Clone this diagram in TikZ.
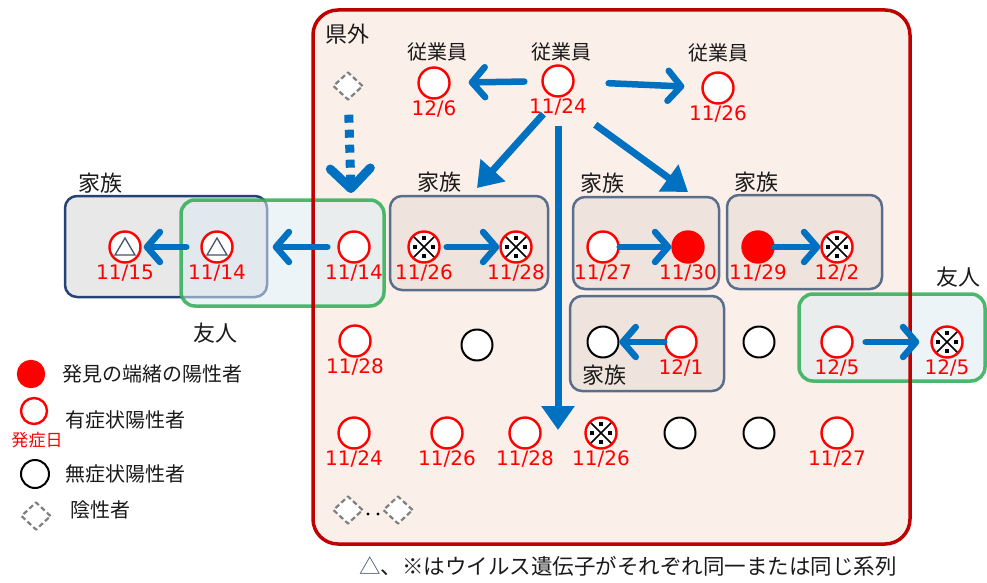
\documentclass[tikz,border=0pt]{standalone}
\usepackage{fontspec}
\setmainfont{DejaVu Sans}
\newfontfamily\jp{Noto Sans CJK JP}
\usetikzlibrary{arrows.meta,shapes.geometric}
\definecolor{outred}{HTML}{C00000}
\definecolor{outfill}{HTML}{FBF0E9}
\definecolor{famfill}{HTML}{EEE4DD}
\definecolor{famdraw}{HTML}{5A6E8C}
\definecolor{navy}{HTML}{254277}
\definecolor{leftgray}{HTML}{E8E8E9}
\definecolor{frgreen}{HTML}{2EAD55}
\definecolor{frfill}{HTML}{DCEBF3}
\definecolor{arrblue}{HTML}{0070C0}
\definecolor{negray}{HTML}{7F7F7F}
\definecolor{textgray}{HTML}{1A1A1A}
\definecolor{slate}{HTML}{44546A}
\begin{document}
\begin{tikzpicture}[x=1pt,y=-1pt,line join=round,line cap=round,label distance=1pt,
  posi/.style={circle,draw=red,fill=white,line width=2.4pt,minimum size=31pt,inner sep=0pt},
  seed/.style={posi,fill=red},
  asym/.style={posi,draw=black,line width=2pt},
  neg/.style={diamond,draw=negray,fill=white,dash pattern=on 5pt off 3pt,line cap=butt,line width=2.2pt,minimum width=30pt,minimum height=28pt,inner sep=0pt},
  kome/.style={posi,path picture={
    \draw[black,line width=1.5pt] ([shift={(-12,-12)}]path picture bounding box.center) -- ++(24,24)
      ([shift={(12,-12)}]path picture bounding box.center) -- ++(-24,24);
    \foreach \dx/\dy in {0/-9,0/9,-9/0,9/0}
      \fill[black] ([shift={(\dx-2,\dy-2)}]path picture bounding box.center) rectangle ++(4,4);}},
  tri/.style={posi,path picture={
    \draw[slate,line width=1.3pt,line join=miter] ([shift={(0,-9)}]path picture bounding box.center) -- ++(10,17) -- ++(-20,0) -- cycle;}},
  date/.style={text=red,inner sep=0pt,font=\fontsize{20}{24}\selectfont},
  jp/.style={inner sep=0pt,text=textgray,font=\jp\fontsize{20}{24}\selectfont},
  grouplbl/.style={jp,font=\jp\fontsize{22}{26}\selectfont},
  arr/.style={draw=arrblue,line width=6.5pt,-{Straight Barb[length=13pt,width=30pt,round]}},
  longarr/.style={draw=arrblue,line width=7pt,line cap=butt,-{Triangle[length=24pt,width=32pt]}},
  famil/.style={draw=famdraw,fill=famfill,line width=2.5pt,rounded corners=12pt},
  friend/.style={draw=frgreen,draw opacity=.85,fill=frfill,fill opacity=.55,line width=3.5pt,rounded corners=14pt}]
\useasboundingbox (0,0) rectangle (987,583);
% areas
\fill[outfill,rounded corners=25pt] (313,10) rectangle (910,544);
\draw[draw=navy,fill=leftgray,line width=2.5pt,rounded corners=12pt] (65,196) rectangle (267,297);
\draw[friend] (181,200) rectangle (384,306);
\draw[friend] (799,294) rectangle (985,381);
\draw[outred,line width=3.5pt,rounded corners=25pt] (313,10) rectangle (910,544);
\draw[famil] (390,196) rectangle (548,290);
\draw[famil] (573,197) rectangle (719,289);
\draw[famil] (727,195) rectangle (882,289);
\draw[famil] (570,296) rectangle (724,391);
% group labels
\node[grouplbl] (g_0) at (347,34) {県外};
\node[grouplbl] (g_1) at (100,183) {家族};
\node[grouplbl] (g_2) at (439,182) {家族};
\node[grouplbl] (g_3) at (602,183) {家族};
\node[grouplbl] (g_4) at (756,182) {家族};
\node[grouplbl] (g_5) at (604,375) {家族};
\node[grouplbl] (g_6) at (215,333) {友人};
\node[grouplbl] (g_7) at (958,277) {友人};
\node[jp] (w_1) at (437,52) {従業員};
\node[jp] (w_2) at (561,52) {従業員};
\node[jp] (w_3) at (718,53) {従業員};
% cases
\node[posi,label={[date]below:11/24}] (S) at (558,81) {};
\node[posi,label={[date]below:12/6}] (E_1) at (434,83) {};
\node[posi,label={[date]below:11/26}] (E_2) at (718,88) {};
\node[neg] (N) at (348,86) {};
\node[posi,label={[date]below:11/14}] (F) at (354,247) {};
\node[tri,label={[date]below:11/14}] (T_1) at (217,247) {};
\node[tri,label={[date]below:11/15}] (T_2) at (125,247) {};
\node[kome,label={[date]below:11/26}] (A_1) at (424,247) {};
\node[kome,label={[date]below:11/28}] (A_2) at (516,247) {};
\node[posi,label={[date]below:11/27}] (B_1) at (603,247) {};
\node[seed,label={[date]below:11/30}] (B_2) at (688,247) {};
\node[seed,label={[date]below:11/29}] (C_1) at (758,247) {};
\node[kome,label={[date]below:12/2}] (C_2) at (837,247) {};
\node[asym] (D_1) at (603,342) {};
\node[posi,label={[date]below:12/1}] (D_2) at (681,342) {};
\node[posi,label={[date]below:12/5}] (R_1) at (837,342) {};
\node[kome,label={[date]below:12/5}] (R_2) at (947,342) {};
\node[posi,label={[date]below:11/28}] (M) at (355,341) {};
\node[asym] (Q_1) at (477,345) {};
\node[asym] (Q_2) at (759,342) {};
\node[posi,label={[date]below:11/24}] (H_1) at (354,433) {};
\node[posi,label={[date]below:11/26}] (H_2) at (447,433) {};
\node[posi,label={[date]below:11/28}] (H_3) at (525,433) {};
\node[kome,label={[date]below:11/26}] (H_4) at (601,433) {};
\node[asym] (H_5) at (680,433) {};
\node[asym] (H_6) at (759,433) {};
\node[posi,label={[date]below:11/27}] (H_7) at (837,433) {};
\node[neg] (N_1) at (348,510) {};
\node[neg] (N_2) at (398,510) {};
\foreach \x in {368,378} \fill (\x,514) circle (1.6);
% spread
\path (477,188) coordinate (K_1) (558,430) coordinate (K_2) (688,192) coordinate (K_3) (351,193) coordinate (K_0);
\draw[longarr,shorten <=22pt] (S.south) -- (K_1);
\draw[longarr,shorten <=28pt] (S.south) -- (K_2);
\draw[longarr,shorten <=46pt] (S.south) -- (K_3);
\draw[draw=arrblue,line width=9pt,line cap=butt,dash pattern=on 8pt off 7pt,shorten <=14pt,-{Straight Barb[length=20pt,width=40pt,round]}] (N) -- (K_0);
\draw[arr,shorten <=17pt,shorten >=18pt] (S) -- (E_1);
\draw[arr,shorten <=34pt,shorten >=17pt] (S) -- (E_2);
\draw[arr,shorten <=10pt,shorten >=39pt] (F) -- (T_1);
\draw[arr,shorten <=14pt,shorten >=2pt] (T_1) -- (T_2);
\draw[arr,shorten <=6pt] (A_1) -- (A_2);
\draw[arr] (B_1) -- (B_2);
\draw[arr] (C_1) -- (C_2);
\draw[arr] (D_2) -- (D_1);
\draw[arr,shorten <=12pt,shorten >=11pt] (R_1) -- (R_2);
% legend
\node[seed,minimum size=26pt] (L_1) at (31,374) {};
\node[posi,minimum size=26pt] (L_2) at (34,411) {};
\node[asym,minimum size=28pt] (L_3) at (35,474) {};
\node[neg] (L_4) at (36,516) {};
\node[jp,anchor=west] (l_1) at (62,374) {発見の端緒の陽性者};
\node[jp,anchor=west] (l_2) at (65,420) {有症状陽性者};
\node[jp,text=red,font=\jp\fontsize{17}{20}\selectfont] (l_0) at (37,440) {発症日};
\node[jp,anchor=west] (l_3) at (65,474) {無症状陽性者};
\node[jp,anchor=west] (l_4) at (70,510) {陰性者};
\node[jp,anchor=west,font=\jp\fontsize{21.5}{26}\selectfont] (cap) at (359,566) {{\color{slate}△}、※はウイルス遺伝子がそれぞれ同一または同じ系列};
\end{tikzpicture}
\end{document}
